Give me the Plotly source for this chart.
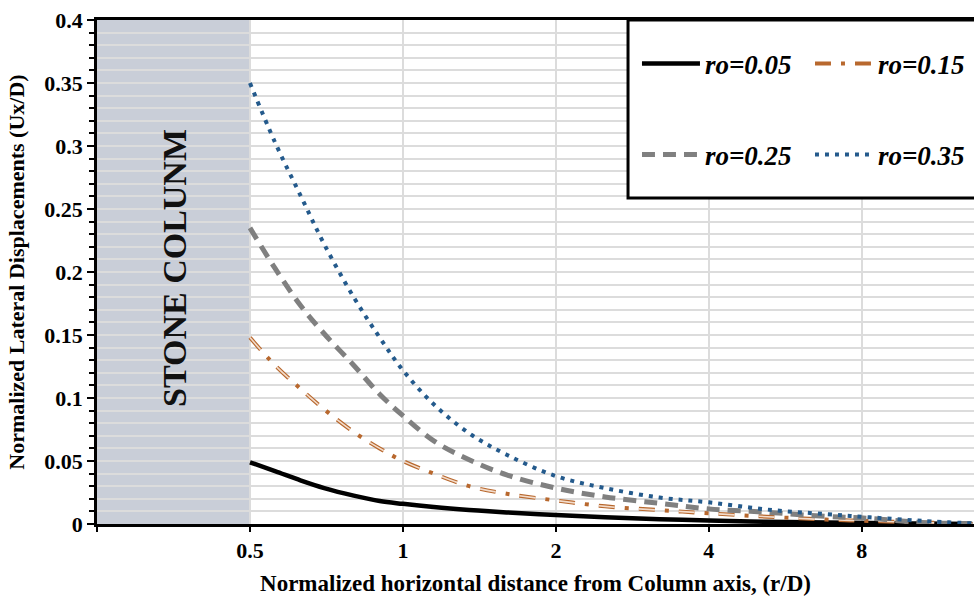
import math
import plotly.graph_objects as go

# ---------------- data ----------------
r_over_d = [0.5, 0.56, 0.63, 0.7, 0.8, 0.9, 1.0, 1.15, 1.35, 1.6, 2.0, 2.5, 3.2, 4.0, 5.2, 6.8, 8.3, 10.5, 13.2]

ux_ro005 = [0.049, 0.042, 0.0345, 0.0285, 0.0225, 0.0182, 0.016, 0.0135, 0.0112, 0.0092, 0.0071,
            0.0054, 0.0038, 0.0028, 0.0018, 0.0012, 0.0008, 0.0003, 0.0]
ux_ro015 = [0.148, 0.126, 0.107, 0.091, 0.073, 0.060, 0.050, 0.040, 0.030, 0.024, 0.0187,
            0.014, 0.011, 0.0085, 0.0058, 0.0035, 0.0024, 0.0012, 0.0]
ux_ro025 = [0.235, 0.203, 0.173, 0.151, 0.126, 0.103, 0.086, 0.066, 0.051, 0.039, 0.0285,
            0.0215, 0.0164, 0.012, 0.0093, 0.006, 0.0045, 0.0012, 0.0003]
ux_ro035 = [0.350, 0.303, 0.260, 0.222, 0.180, 0.148, 0.122, 0.095, 0.072, 0.055, 0.038,
            0.0285, 0.021, 0.0172, 0.0115, 0.0078, 0.0053, 0.0025, 0.0005]

series_names = ["ro=0.05", "ro=0.15", "ro=0.25", "ro=0.35"]
x_tick_vals = [0.25, 0.5, 1, 2, 4, 8]
x_tick_text = ["", "0.5", "1", "2", "4", "8"]
y_tick_vals = [0, 0.05, 0.1, 0.15, 0.2, 0.25, 0.3, 0.35, 0.4]
y_tick_text = ["0", "0.05", "0.1", "0.15", "0.2", "0.25", "0.3", "0.35", "0.4"]
column_label = "STONE COLUNM"
x_title = "Normalized horizontal distance from Column axis, (r/D)"
y_title = "Normalized Lateral Displacements (Ux/D)"

# ---------------- figure ----------------
FONT = "Liberation Serif, Times New Roman, serif"
legend_font = dict(family=FONT, size=27, color="black", weight="bold", style="italic")

fig = go.Figure()

fig.add_trace(go.Scatter(x=r_over_d, y=ux_ro005, name=series_names[0], mode="lines",
                         line=dict(color="black", width=4.5, shape="spline"),
                         legend="legend"))
fig.add_trace(go.Scatter(x=r_over_d, y=ux_ro015, name=series_names[1], mode="lines",
                         line=dict(color="#b8682e", width=4, dash="16px,10px,4px,10px", shape="spline"),
                         legend="legend"))
fig.add_trace(go.Scatter(x=r_over_d, y=ux_ro015, name=series_names[1], mode="lines",
                         line=dict(color="#f3dccb", width=1.6, dash="16px,10px,0px,14px", shape="spline"),
                         showlegend=False, hoverinfo="skip"))
fig.add_trace(go.Scatter(x=r_over_d, y=ux_ro025, name=series_names[2], mode="lines",
                         line=dict(color="#808080", width=5, dash="13px,8px", shape="spline"),
                         legend="legend2"))
fig.add_trace(go.Scatter(x=r_over_d, y=ux_ro035, name=series_names[3], mode="lines",
                         line=dict(color="#245a8c", width=4, dash="4px,6px", shape="spline"),
                         legend="legend2"))

# stone column band
fig.add_shape(type="rect", xref="x", yref="paper", x0=0.25, x1=0.5, y0=0, y1=1,
              fillcolor="#c9ced8", line=dict(width=0), layer="between")
fig.add_annotation(text=column_label, xref="paper", yref="paper", x=0.089, y=0.508,
                   xanchor="center", yanchor="middle",
                   textangle=-90, showarrow=False,
                   font=dict(family=FONT, size=34, color="#111111", weight="bold"))

# legend box
fig.add_shape(type="rect", xref="paper", yref="paper", x0=0.6055, x1=1.08, y0=0.647, y1=1.0,
              fillcolor="white", line=dict(color="black", width=3), layer="above")

fig.update_layout(
    width=974, height=596,
    margin=dict(l=97, r=0, t=20, b=72, autoexpand=False),
    paper_bgcolor="white", plot_bgcolor="white",
    font=dict(family=FONT, color="black"),
    legend=dict(orientation="h", x=0.6157, y=0.913, xanchor="left", yanchor="middle",
                font=legend_font, bgcolor="rgba(0,0,0,0)", borderwidth=0,
                entrywidth=100, itemwidth=58, traceorder="normal"),
    legend2=dict(orientation="h", x=0.6157, y=0.732, xanchor="left", yanchor="middle",
                 font=legend_font, bgcolor="rgba(0,0,0,0)", borderwidth=0,
                 entrywidth=100, itemwidth=58, traceorder="normal"),
    xaxis=dict(type="log", range=[math.log10(0.25), math.log10(13.3)],
               tickvals=x_tick_vals, ticktext=x_tick_text,
               showgrid=True, gridcolor="#dcdcdc", gridwidth=1.5,
               showline=True, linecolor="black", linewidth=2.5, mirror=True,
               ticks="outside", ticklen=5, tickwidth=1.5, tickcolor="black",
               tickfont=dict(family=FONT, size=22, weight="bold"),
               title=dict(text=x_title, font=dict(family=FONT, size=23, weight="bold"), standoff=18),
               zeroline=False, automargin=False),
    yaxis=dict(range=[0, 0.4], tickmode="array", tickvals=y_tick_vals, ticktext=y_tick_text,
               showgrid=True, gridcolor="#dcdcdc", gridwidth=1.5,
               showline=True, linecolor="black", linewidth=2.5,
               ticks="outside", ticklen=7, tickwidth=1.5, tickcolor="black",
               tickfont=dict(family=FONT, size=22, weight="bold"),
               minor=dict(tickmode="linear", tick0=0, dtick=0.01, ticks="outside", ticklen=5,
                          tickcolor="black", showgrid=True, gridcolor="#dcdcdc", gridwidth=1.5),
               title=dict(text=y_title, font=dict(family=FONT, size=22, weight="bold"), standoff=14),
               zeroline=False, automargin=False),
)

fig.write_html("out.html",
               config={"displayModeBar": False},
               post_script="document.body.style.margin='0';document.body.style.overflow='hidden';")
